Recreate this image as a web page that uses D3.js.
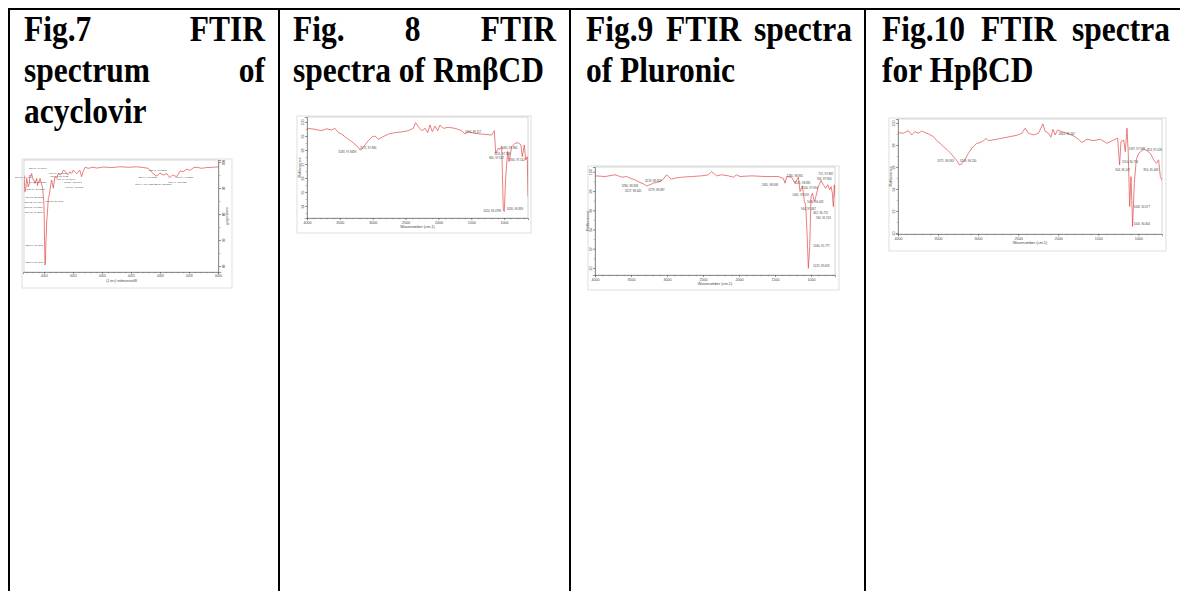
<!DOCTYPE html>
<html>
<head>
<meta charset="utf-8">
<script src="https://cdn.jsdelivr.net/npm/d3@7"></script>
<style>
body { margin: 0; background: #fff; }
svg { display: block; }
.caption { font-family: "Liberation Serif", "Times New Roman", serif; font-weight: bold; font-size: 31.5px; fill: #000; }
.tiny { font-family: "Liberation Sans", Arial, sans-serif; fill: #444; }
</style>
</head>
<body>
<svg id="tabla" width="1180" height="591"></svg>
<script>
// texto de cada celda (una entrada por renglon)
var caption7 = ["Fig.7 FTIR", "spectrum of", "acyclovir"];
var caption8 = ["Fig. 8 FTIR", "spectra of RmβCD"];
var caption9 = ["Fig.9 FTIR spectra", "of Pluronic"];
var caption10 = ["Fig.10 FTIR spectra", "for HpβCD"];

// ticks del numero de onda (todas las figuras)
var waveTicks = [4000, 3500, 3000, 2500, 2000, 1500, 1000];
var waveTitle = "Wavenumber (cm-1)";
var reflTitle = "Reflectance";

// Fig.7 acyclovir
var acWave = [4000,3900,3787,3700,3620,3557,3500,3440,3385,3330,3270,3200,3150,3098,3040,2983,2930,2880,2839,2780,2700,2580,2450,2293,2150,2006,1900,1820,1747,1690,1660,1632,1600,1574,1546,1510,1488,1460,1431,1400,1374,1345,1316,1290,1259,1230,1201,1172,1144,1115,1098,1074,1057,1040,1029,1017,1008,1000,992,983,960,935,914,900,885,870,857,840,828,812,799,785,770,755,741,728,712,698,684,670,655,645,638];
var acRefl = [98.2,98.0,97.9,97.6,98.0,97.8,96.8,97.3,96.3,96.6,94.4,95.0,94.0,95.6,95.0,95.8,94.6,95.2,96.2,97.6,97.9,98.2,98.0,98.2,97.9,98.1,97.7,98.0,97.6,98.0,96.5,94.4,96.9,96.2,95.6,96.3,96.9,95.6,96.3,95.2,95.6,96.5,96.9,95.6,95.0,95.6,93.7,94.4,89.9,93.1,91.2,87.3,86.0,80.0,77.0,69.3,62.0,60.4,70.0,83.5,89.9,92.0,93.7,92.4,92.4,91.0,93.7,92.5,91.8,93.0,93.1,94.0,95.6,94.5,95.0,91.5,90.5,92.0,93.7,90.0,88.6,92.0,95.0];
var acYTicks = [100, 90, 80, 70, 60];
var acPeaks = [
  [1029, 97.2, "3437.96, 98.381"], [771, 94.0, "667.41, 95.132"], [1029, 91.8, "3180.55, 92.474"],
  [1000, 89.1, "1633.78, 90.312"], [971, 86.3, "1575.62, 87.105"], [960, 84.1, "1484.06, 85.788"],
  [960, 82.2, "1387.66, 83.902"], [960, 80.3, "1185.40, 81.651"], [1316, 84.7, "1608.05, 85.297"],
  [1374, 95.6, "2692.37, 96.154"], [1402, 94.3, "2546.18, 95.021"], [1517, 93.1, "1410.16, 94.187"],
  [1632, 91.8, "1345.20, 92.634"], [1661, 90.1, "1102.19, 90.667"], [971, 67.7, "1630.03, 68.220"],
  [971, 61.0, "1771.38, 60.287"], [3098, 96.5, "2925.71, 96.250"], [2925, 94.0, "2851.33, 94.785"],
  [2868, 91.2, "3264.18, 94.018"], [3180, 91.2, "3085.52, 95.227"], [3557, 94.0, "3385.14, 96.314"],
  [3443, 92.0, "3270.81, 94.372"]
];

// Fig.8 RmbCD
var rmWave = [4000,3878,3777,3700,3624,3574,3523,3472,3422,3371,3320,3269,3219,3193,3168,3117,3067,3006,2965,2915,2863,2762,2661,2559,2458,2382,2346,2306,2254,2204,2163,2128,2093,2052,2011,1976,1925,1849,1747,1645,1595,1545,1443,1341,1189,1149,1127,1088,1062,1036,1012,997,975,945,925,884,834,783,743,723,692,671,647,636];
var rmRefl = [99.55,99.48,99.38,99.52,99.43,99.55,99.24,99.14,98.95,98.76,98.6,98.4,98.19,98.0,98.05,98.36,98.67,98.95,99.0,98.76,98.9,99.14,99.24,99.29,99.38,99.55,99.95,99.67,99.38,99.55,99.24,99.79,99.31,99.71,99.38,99.79,99.55,99.62,99.55,99.38,99.14,99.31,99.19,99.14,99.07,99.38,97.76,98.12,98.05,98.24,93.71,93.6,96.1,97.9,97.17,98.24,98.48,98.52,98.36,97.52,98.36,97.29,97.52,94.67];
var rmYTicks = [100, 99, 98, 97, 96, 95, 94];
var rmPeaks = [
  [3523, 97.81, "3183, 97.9489"], [3193, 98.07, "3172, 97.880"], [1595, 99.24, "1604, 99.117"],
  [1047, 98.07, "1080, 97.884"], [1149, 97.64, "1155, 97.764"], [1230, 97.33, "944, 97.507"],
  [910, 97.24, "856, 97.542"], [1317, 93.6, "1024, 93.4799"], [961, 93.71, "1026, 93.389"]
];

// Fig.9 Pluronic
var pluWave = [4000,3861,3722,3676,3630,3560,3514,3444,3375,3329,3282,3236,3190,3144,3097,3051,3005,2972,2935,2889,2796,2657,2518,2426,2380,2343,2310,2240,2148,2079,2032,1986,1824,1639,1454,1384,1361,1338,1269,1222,1176,1153,1120,1092,1074,1055,1037,1018,1000,981,953,935,898,861,829,796,768,741,722,704,690,676,667];
var pluRefl = [99.58,99.51,99.69,99.58,99.44,99.51,99.34,99.17,98.89,98.75,98.54,98.65,98.82,98.89,98.99,99.24,99.69,99.44,99.24,99.34,99.44,99.51,99.58,99.69,100.03,99.79,99.58,99.69,99.58,99.44,99.69,99.51,99.58,99.51,99.51,99.3,98.82,99.51,99.44,98.82,99.44,97.95,98.54,96.9,96.56,93.6,89.97,92.2,97.4,97.78,96.9,97.36,98.47,99.1,98.65,98.3,98.65,98.13,98.47,97.78,96.39,98.65,97.4];
var pluYTicks = [100, 98, 96, 94, 92, 90];
var pluPeaks = [
  [3630, 98.47, "3280, 98.338"], [3583, 97.88, "3227, 98.445"], [3305, 98.89, "3219, 98.459"],
  [3259, 98.05, "3273, 98.387"], [1685, 98.57, "1345, 98.808"], [1338, 99.45, "1280, 98.861"],
  [1232, 98.72, "1241, 98.891"], [1128, 98.2, "1150, 97.954"], [1259, 97.53, "1062, 97.509"],
  [1055, 96.74, "1060, 96.428"], [1138, 96.04, "944, 97.467"], [968, 95.63, "842, 96.712"],
  [932, 95.1, "530, 95.743"], [898, 99.69, "721, 97.882"], [921, 99.1, "764, 97.990"],
  [968, 92.16, "1060, 91.777"], [968, 90.14, "1025, 89.619"]
];

// Fig.10 HpbCD
var hpWave = [4000,3933,3871,3829,3788,3746,3704,3663,3621,3558,3516,3475,3433,3391,3350,3308,3266,3233,3204,3162,3121,3079,3016,2975,2933,2900,2871,2766,2641,2516,2454,2413,2371,2308,2246,2191,2163,2121,2091,2066,2038,2008,1954,1891,1808,1746,1704,1641,1558,1475,1391,1308,1258,1233,1216,1183,1162,1141,1125,1108,1091,1071,1050,1025,996,933,891,850,808,775,746,725,704];
var hpRefl = [99.12,99.06,99.3,98.91,99.21,99.06,99.27,99.12,99.0,98.76,98.39,98.15,97.85,97.61,97.3,96.94,96.58,96.18,96.27,96.7,97.24,97.7,98.15,98.21,98.39,98.58,98.39,98.52,98.7,98.88,99.06,99.52,99.06,98.91,99.06,99.91,99.24,99.06,98.7,99.42,98.91,99.36,99.21,99.06,98.82,98.52,98.21,98.52,98.39,98.52,98.15,98.45,98.61,96.18,98.3,98.45,97.39,99.52,97.24,92.39,95.12,90.58,94.52,96.64,97.24,97.61,97.48,97.24,96.64,96.33,96.64,95.12,94.8];
var hpYTicks = [100, 98, 96, 94, 92, 90];
var hpPeaks = [
  [3508, 96.48, "3175, 96.363"], [3225, 96.48, "3209, 96.230"], [1996, 98.91, "1863, 99.562"],
  [1121, 97.55, "1097, 97.568"], [1204, 96.33, "1150, 96.714"], [1287, 95.64, "944, 96.147"],
  [934, 95.64, "850, 95.469"], [891, 97.45, "853, 97.426"], [1058, 92.3, "1028, 92.077"],
  [1058, 90.73, "1000, 90.464"]
];

var svg = d3.select("#tabla");

// ---------- tabla ----------
var columnas = [9, 279, 570, 865];
var lineaY = 9;

svg.append("line")
   .attr("x1", 8).attr("x2", 1180)
   .attr("y1", lineaY).attr("y2", lineaY)
   .attr("stroke", "#000").attr("stroke-width", 2);

svg.selectAll(".col")
   .data(columnas)
   .enter().append("line")
   .attr("class", "col")
   .attr("x1", function(d) { return d; })
   .attr("x2", function(d) { return d; })
   .attr("y1", lineaY - 1).attr("y2", 591)
   .attr("stroke", "#000").attr("stroke-width", 2);

// el texto del documento sale algo estirado en vertical
var estiroY = 1.12;

function ponerTexto(txt, x, yBase) {
    return svg.append("text").attr("class", "caption")
              .attr("transform", "translate(" + x + "," + yBase + ") scale(1," + estiroY + ")")
              .text(txt);
}

function escribirCelda(lineas, izq, der) {
    var primera = 41, salto = 41;
    lineas.forEach(function(linea, i) {
        var yBase = primera + i * salto;
        var palabras = linea.split(" ");
        // la ultima linea del parrafo no se justifica
        if (i == lineas.length - 1 || palabras.length < 2) {
            ponerTexto(linea, izq, yBase);
            return;
        }
        var nodos = palabras.map(function(p) { return ponerTexto(p, 0, yBase); });
        var anchos = nodos.map(function(n) { return n.node().getComputedTextLength(); });
        var hueco = (der - izq - d3.sum(anchos)) / (palabras.length - 1);
        var xAct = izq;
        nodos.forEach(function(n, k) {
            n.attr("transform", "translate(" + xAct + "," + yBase + ") scale(1," + estiroY + ")");
            xAct += anchos[k] + hueco;
        });
    });
}

escribirCelda(caption7, 24, 265);
escribirCelda(caption8, 293, 556);
escribirCelda(caption9, 586, 852);
escribirCelda(caption10, 882, 1170);

// ---------- espectros ----------
function dibujarEspectro(cfg, wave, refl, yTicks, peaks) {
    var fx = cfg.frame[0], fy = cfg.frame[1], w = cfg.frame[2], h = cfg.frame[3], m = cfg.m;

    var g = svg.append("g");
    if (cfg.mirror) {
        g.attr("transform", "translate(" + (fx + w) + "," + fy + ") scale(-1,1)");
    } else {
        g.attr("transform", "translate(" + fx + "," + fy + ")");
    }

    g.append("rect")
     .attr("x", 0).attr("y", 0).attr("width", w).attr("height", h)
     .attr("fill", "#fff").attr("stroke", "#d6d6d6").attr("stroke-width", 0.8);

    var x = d3.scaleLinear().domain([4000, cfg.xEnd]).range([m.l, w - m.r]),
        y = d3.scaleLinear().domain(cfg.yDom).range([h - m.b, m.t]);

    g.append("rect")
     .attr("x", m.l).attr("y", m.t)
     .attr("width", w - m.r - m.l).attr("height", h - m.b - m.t)
     .attr("fill", "none").attr("stroke", "#b8b8b8").attr("stroke-width", 0.6);

    // eje x, menores cada 100
    var ejeMenor = g.append("g")
        .attr("transform", "translate(0," + (h - m.b) + ")")
        .call(d3.axisBottom(x).tickValues(d3.range(4000, cfg.xEnd, -100)).tickSize(1.3).tickFormat(""));
    ejeMenor.select(".domain").remove();

    var ejeX = g.append("g")
        .attr("transform", "translate(0," + (h - m.b) + ")")
        .call(d3.axisBottom(x).tickValues(waveTicks).tickSize(2.2).tickPadding(1).tickFormat(d3.format("d")));
    ejeX.select(".domain").attr("stroke", "#555").attr("stroke-width", 0.6);
    ejeX.selectAll("line").attr("stroke", "#555").attr("stroke-width", 0.5);
    ejeMenor.selectAll("line").attr("stroke", "#555").attr("stroke-width", 0.4);
    ejeX.selectAll("text")
        .attr("class", "tiny")
        .attr("font-size", cfg.fsEje)
        .attr("fill", "#444");

    g.append("text")
     .attr("class", "tiny")
     .attr("x", (m.l + w - m.r) / 2)
     .attr("y", h - m.b + 9.5)
     .attr("text-anchor", "middle")
     .attr("font-size", cfg.fsEje + 0.2)
     .text(waveTitle);

    // eje y
    var paso = yTicks[0] - yTicks[1];
    var menoresY = d3.range(yTicks[yTicks.length - 1] - paso, yTicks[0] + paso, paso / 2)
        .filter(function(v) { return v >= cfg.yDom[0] && v <= cfg.yDom[1]; });
    var ejeYMenor = g.append("g")
        .attr("transform", "translate(" + m.l + ",0)")
        .call(d3.axisLeft(y).tickValues(menoresY).tickSize(1.3).tickFormat(""));
    ejeYMenor.select(".domain").remove();
    ejeYMenor.selectAll("line").attr("stroke", "#555").attr("stroke-width", 0.4);

    var ejeY = g.append("g")
        .attr("transform", "translate(" + m.l + ",0)")
        .call(d3.axisLeft(y).tickValues(yTicks).tickSize(2.2).tickFormat(d3.format("d")));
    ejeY.select(".domain").attr("stroke", "#555").attr("stroke-width", 0.6);
    ejeY.selectAll("line").attr("stroke", "#555").attr("stroke-width", 0.5);
    ejeY.selectAll("text")
        .attr("class", "tiny")
        .attr("font-size", cfg.fsEje)
        .attr("fill", "#444")
        .attr("x", 0).attr("dy", 0)
        .attr("text-anchor", "middle")
        .attr("transform", "translate(-3.4,0) rotate(-90)");

    g.append("text")
     .attr("class", "tiny")
     .attr("transform", "translate(" + (m.l - 6.5) + "," + ((m.t + h - m.b) / 2) + ") rotate(-90)")
     .attr("text-anchor", "middle")
     .attr("font-size", cfg.fsEje + 0.2)
     .text(reflTitle);

    // espectro
    var clipId = "clip" + fx;
    g.append("clipPath").attr("id", clipId)
     .append("rect")
     .attr("x", m.l).attr("y", m.t)
     .attr("width", w - m.r - m.l).attr("height", h - m.b - m.t);

    var linea = d3.line()
        .x(function(d) { return x(d[0]); })
        .y(function(d) { return y(d[1]); });

    g.append("path")
     .datum(d3.zip(wave, refl))
     .attr("clip-path", "url(#" + clipId + ")")
     .attr("d", linea)
     .attr("fill", "none")
     .attr("stroke", "#e04848")
     .attr("stroke-width", 0.7)
     .attr("stroke-linejoin", "round");

    // etiquetas de picos
    g.selectAll(".pico")
     .data(peaks)
     .enter().append("text")
     .attr("class", "tiny pico")
     .attr("x", function(d) { return x(d[0]); })
     .attr("y", function(d) { return y(d[1]); })
     .attr("font-size", cfg.fsPico)
     .attr("fill", "#222")
     .text(function(d) { return d[2]; });
}

dibujarEspectro({frame: [22, 159, 210, 129], m: {l: 13, r: 2, t: 1, b: 16}, xEnd: 638, yDom: [57.7, 100.8], mirror: true, fsEje: 3.2, fsPico: 2.5},
                acWave, acRefl, acYTicks, acPeaks);
dibujarEspectro({frame: [297, 116, 234, 117], m: {l: 10, r: 3, t: 1, b: 15}, xEnd: 636, yDom: [93.14, 100.36], fsEje: 3.6, fsPico: 2.8},
                rmWave, rmRefl, rmYTicks, rmPeaks);
dibujarEspectro({frame: [588, 166, 251, 124], m: {l: 7, r: 4, t: 1, b: 15}, xEnd: 667, yDom: [89.27, 100.5], fsEje: 3.6, fsPico: 2.8},
                pluWave, pluRefl, pluYTicks, pluPeaks);
dibujarEspectro({frame: [889, 118, 277, 133], m: {l: 9, r: 4, t: 1, b: 17}, xEnd: 704, yDom: [89.9, 100.36], fsEje: 3.6, fsPico: 2.8},
                hpWave, hpRefl, hpYTicks, hpPeaks);
</script>
</body>
</html>
